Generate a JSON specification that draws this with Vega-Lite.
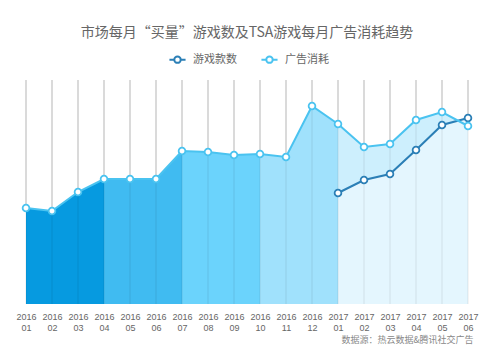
{
  "$schema": "https://vega.github.io/schema/vega-lite/v6.json",
  "autosize": {"type": "none"},
  "width": 442,
  "height": 224,
  "padding": {"left": 26, "top": 80, "right": 32, "bottom": 58},
  "background": "white",
  "config": {
    "view": {"stroke": null},
    "font": "Noto Sans CJK SC",
    "text": {"font": "Noto Sans CJK SC"}
  },
  "title": {
    "text": "市场每月“买量”游戏数及TSA游戏每月广告消耗趋势",
    "anchor": "middle",
    "frame": "group",
    "offset": 10,
    "fontSize": 14,
    "fontWeight": "normal",
    "color": "#666666",
    "font": "Noto Sans CJK SC"
  },
  "datasets": {
    "ad": [
      {"month": "2016 01", "value": 96},
      {"month": "2016 02", "value": 93},
      {"month": "2016 03", "value": 112},
      {"month": "2016 04", "value": 125},
      {"month": "2016 05", "value": 125},
      {"month": "2016 06", "value": 125},
      {"month": "2016 07", "value": 153},
      {"month": "2016 08", "value": 152},
      {"month": "2016 09", "value": 149},
      {"month": "2016 10", "value": 150},
      {"month": "2016 11", "value": 147},
      {"month": "2016 12", "value": 198},
      {"month": "2017 01", "value": 180},
      {"month": "2017 02", "value": 157},
      {"month": "2017 03", "value": 160},
      {"month": "2017 04", "value": 184},
      {"month": "2017 05", "value": 192},
      {"month": "2017 06", "value": 178}
    ],
    "seg": [
      {"month": "2016 01", "value": 96, "seg": "A"},
      {"month": "2016 02", "value": 93, "seg": "A"},
      {"month": "2016 03", "value": 112, "seg": "A"},
      {"month": "2016 04", "value": 125, "seg": "A"},
      {"month": "2016 04", "value": 125, "seg": "B"},
      {"month": "2016 05", "value": 125, "seg": "B"},
      {"month": "2016 06", "value": 125, "seg": "B"},
      {"month": "2016 07", "value": 153, "seg": "B"},
      {"month": "2016 07", "value": 153, "seg": "C"},
      {"month": "2016 08", "value": 152, "seg": "C"},
      {"month": "2016 09", "value": 149, "seg": "C"},
      {"month": "2016 10", "value": 150, "seg": "C"},
      {"month": "2016 10", "value": 150, "seg": "D"},
      {"month": "2016 11", "value": 147, "seg": "D"},
      {"month": "2016 12", "value": 198, "seg": "D"},
      {"month": "2017 01", "value": 180, "seg": "D"},
      {"month": "2017 01", "value": 180, "seg": "E"},
      {"month": "2017 02", "value": 157, "seg": "E"},
      {"month": "2017 03", "value": 160, "seg": "E"},
      {"month": "2017 04", "value": 184, "seg": "E"},
      {"month": "2017 05", "value": 192, "seg": "E"},
      {"month": "2017 06", "value": 178, "seg": "E"}
    ],
    "lines": [
      {"month": "2017 01", "value": 111, "series": "游戏款数"},
      {"month": "2017 02", "value": 124, "series": "游戏款数"},
      {"month": "2017 03", "value": 130, "series": "游戏款数"},
      {"month": "2017 04", "value": 154, "series": "游戏款数"},
      {"month": "2017 05", "value": 179, "series": "游戏款数"},
      {"month": "2017 06", "value": 186, "series": "游戏款数"},
      {"month": "2016 01", "value": 96, "series": "广告消耗"},
      {"month": "2016 02", "value": 93, "series": "广告消耗"},
      {"month": "2016 03", "value": 112, "series": "广告消耗"},
      {"month": "2016 04", "value": 125, "series": "广告消耗"},
      {"month": "2016 05", "value": 125, "series": "广告消耗"},
      {"month": "2016 06", "value": 125, "series": "广告消耗"},
      {"month": "2016 07", "value": 153, "series": "广告消耗"},
      {"month": "2016 08", "value": 152, "series": "广告消耗"},
      {"month": "2016 09", "value": 149, "series": "广告消耗"},
      {"month": "2016 10", "value": 150, "series": "广告消耗"},
      {"month": "2016 11", "value": 147, "series": "广告消耗"},
      {"month": "2016 12", "value": 198, "series": "广告消耗"},
      {"month": "2017 01", "value": 180, "series": "广告消耗"},
      {"month": "2017 02", "value": 157, "series": "广告消耗"},
      {"month": "2017 03", "value": 160, "series": "广告消耗"},
      {"month": "2017 04", "value": 184, "series": "广告消耗"},
      {"month": "2017 05", "value": 192, "series": "广告消耗"},
      {"month": "2017 06", "value": 178, "series": "广告消耗"}
    ]
  },
  "encoding": {
    "x": {
      "field": "month",
      "type": "ordinal",
      "scale": {"type": "point", "padding": 0},
      "axis": {
        "title": "数据源：热云数据&腾讯社交广告",
        "titleAnchor": "end",
        "titleAlign": "right",
        "titleFontSize": 9,
        "titleFontWeight": "normal",
        "titleColor": "#888888",
        "titlePadding": 3,
        "titleX": 447,
        "labelExpr": "split(datum.label, ' ')",
        "labelAngle": 0,
        "labelFont": "Liberation Sans",
        "labelFontSize": 9,
        "labelColor": "#666666",
        "labelLineHeight": 11,
        "labelOverlap": false,
        "labelBound": false,
        "labelPadding": 8,
        "domain": false,
        "ticks": false,
        "grid": false
      }
    },
    "y": {
      "field": "value",
      "type": "quantitative",
      "stack": null,
      "scale": {"domain": [0, 224], "nice": false, "zero": true},
      "axis": null
    }
  },
  "resolve": {
    "scale": {"color": "independent", "fill": "independent", "stroke": "independent"},
    "legend": {"color": "independent", "fill": "independent", "stroke": "independent"}
  },
  "layer": [
    {
      "data": {"name": "ad"},
      "mark": {"type": "rule", "color": "#b5b5b5", "strokeWidth": 1},
      "encoding": {"y2": {"datum": 224}}
    },
    {
      "data": {"name": "seg"},
      "mark": {"type": "area", "opacity": 1},
      "encoding": {
        "fill": {
          "field": "seg",
          "type": "nominal",
          "scale": {"domain": ["A", "B", "C", "D", "E"], "range": ["#069ae0", "#40bbf1", "#6bd3fc", "#a0e1fc", "#cdeffd"]},
          "legend": null
        }
      }
    },
    {
      "data": {"name": "lines"},
      "transform": [{"filter": "datum.series === '游戏款数'"}],
      "mark": {"type": "area", "color": "#e4f6fe", "opacity": 1},
      "encoding": {}
    },
    {
      "data": {"name": "ad"},
      "mark": {"type": "rule", "color": "#000000", "opacity": 0.09, "strokeWidth": 1},
      "encoding": {"y2": {"datum": 0}}
    },
    {
      "data": {"name": "lines"},
      "mark": {"type": "line", "strokeWidth": 2},
      "encoding": {
        "color": {
          "field": "series",
          "type": "nominal",
          "scale": {"domain": ["游戏款数", "广告消耗"], "range": ["#2b7fb6", "#4ac3f0"]},
          "legend": {
            "orient": "none",
            "direction": "horizontal",
            "legendX": 142,
            "legendY": -30,
            "title": null,
            "padding": 0,
            "symbolType": "M-1,0L-0.42,0M0.42,0L1,0M0.4,0A0.4,0.4 0 1 1 -0.4,0A0.4,0.4 0 1 1 0.4,0Z",
            "symbolSize": 260,
            "symbolStrokeWidth": 2,
            "symbolFillColor": "white",
            "labelFontSize": 11,
            "labelColor": "#666666",
            "labelFont": "Noto Sans CJK SC",
            "labelOffset": 6,
            "columnPadding": 20
          }
        }
      }
    },
    {
      "data": {"name": "lines"},
      "mark": {"type": "point", "filled": false, "fill": "white", "fillOpacity": 1, "opacity": 1, "size": 45, "strokeWidth": 1.8},
      "encoding": {
        "stroke": {
          "field": "series",
          "type": "nominal",
          "scale": {"domain": ["游戏款数", "广告消耗"], "range": ["#2b7fb6", "#4ac3f0"]},
          "legend": null
        }
      }
    }
  ]
}
